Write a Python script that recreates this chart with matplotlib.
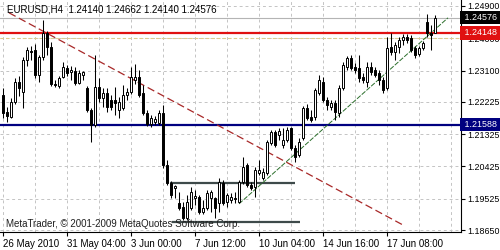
import matplotlib
matplotlib.use("Agg")
import matplotlib.pyplot as plt
from matplotlib.transforms import blended_transform_factory

plt.rcParams['font.family'] = ['Liberation Sans', 'DejaVu Sans']

# EURUSD H4 candles
opens = [1.2242, 1.2194, 1.2180, 1.2222, 1.2278, 1.2250, 1.2339, 1.2364, 1.2367, 1.2297,
         1.2348, 1.2415, 1.2376, 1.2272, 1.2267, 1.2292, 1.2317, 1.2306, 1.2309, 1.2275,
         1.2297, 1.2261, 1.2200, 1.2158, 1.2264, 1.2233, 1.2247, 1.2228, 1.2228, 1.2200,
         1.2205, 1.2242, 1.2250, 1.2284, 1.2292, 1.2247, 1.2191, 1.2161, 1.2166, 1.2164,
         1.2191, 1.2046, 1.1996, 1.1982, 1.1940, 1.1929, 1.1899, 1.1926, 1.1954, 1.1957,
         1.1915, 1.1926, 1.1954, 1.1954, 1.1940, 1.1996, 1.1943, 1.1949, 1.1954, 1.1943,
         1.1999, 1.2046, 1.1991, 1.1985, 1.2024, 1.2010, 1.2024, 1.2108, 1.2138, 1.2130,
         1.2102, 1.2116, 1.2150, 1.2094, 1.2074, 1.2122, 1.2205, 1.2180, 1.2180, 1.2247,
         1.2278, 1.2228, 1.2208, 1.2219, 1.2191, 1.2261, 1.2320, 1.2345, 1.2320, 1.2317,
         1.2292, 1.2278, 1.2320, 1.2311, 1.2303, 1.2284, 1.2261, 1.2376, 1.2362, 1.2376,
         1.2395, 1.2404, 1.2401, 1.2373, 1.2356, 1.2373, 1.2445, 1.2415, 1.24140]
highs = [1.2261, 1.2208, 1.2233, 1.2289, 1.2295, 1.2348, 1.2376, 1.2378, 1.2384, 1.2353,
         1.2451, 1.2420, 1.2390, 1.2284, 1.2295, 1.2334, 1.2325, 1.2323, 1.2320, 1.2311,
         1.2309, 1.2267, 1.2205, 1.2353, 1.2289, 1.2261, 1.2261, 1.2242, 1.2264, 1.2236,
         1.2270, 1.2261, 1.2320, 1.2328, 1.2311, 1.2270, 1.2200, 1.2186, 1.2183, 1.2200,
         1.2214, 1.2060, 1.2002, 1.1991, 1.1971, 1.1943, 1.1963, 1.1985, 1.1977, 1.1963,
         1.1949, 1.1977, 1.1977, 1.1957, 1.2010, 1.2005, 1.1968, 1.1968, 1.1971, 1.2005,
         1.2069, 1.2052, 1.1999, 1.2041, 1.2060, 1.2038, 1.2116, 1.2144, 1.2144, 1.2150,
         1.2150, 1.2152, 1.2152, 1.2102, 1.2122, 1.2211, 1.2217, 1.2200, 1.2261, 1.2297,
         1.2292, 1.2236, 1.2228, 1.2228, 1.2270, 1.2334, 1.2350, 1.2353, 1.2331, 1.2353,
         1.2303, 1.2334, 1.2334, 1.2320, 1.2311, 1.2292, 1.2404, 1.2415, 1.2390, 1.2404,
         1.2412, 1.2412, 1.2409, 1.2378, 1.2378, 1.2392, 1.2468, 1.2437, 1.24662]
lows = [1.2178, 1.2166, 1.2178, 1.2217, 1.2239, 1.2205, 1.2323, 1.2339, 1.2289, 1.2278,
        1.2339, 1.2353, 1.2267, 1.2264, 1.2261, 1.2289, 1.2295, 1.2284, 1.2270, 1.2272,
        1.2284, 1.2194, 1.2111, 1.2152, 1.2222, 1.2208, 1.2194, 1.2200, 1.2186, 1.2178,
        1.2200, 1.2228, 1.2244, 1.2272, 1.2236, 1.2186, 1.2155, 1.2152, 1.2158, 1.2158,
        1.2038, 1.1991, 1.1954, 1.1954, 1.1921, 1.1893, 1.1893, 1.1921, 1.1935, 1.1910,
        1.1910, 1.1921, 1.1915, 1.1899, 1.1915, 1.1935, 1.1929, 1.1940, 1.1940, 1.1940,
        1.1993, 1.1985, 1.1977, 1.1957, 1.2018, 1.2005, 1.2018, 1.2102, 1.2097, 1.2116,
        1.2094, 1.2111, 1.2088, 1.2055, 1.2069, 1.2116, 1.2172, 1.2166, 1.2172, 1.2242,
        1.2222, 1.2200, 1.2200, 1.2172, 1.2180, 1.2256, 1.2311, 1.2311, 1.2303, 1.2278,
        1.2275, 1.2264, 1.2297, 1.2292, 1.2270, 1.2247, 1.2256, 1.2353, 1.2339, 1.2359,
        1.2381, 1.2387, 1.2362, 1.2345, 1.2350, 1.2367, 1.2404, 1.2367, 1.24140]
closes = [1.2191, 1.2183, 1.2222, 1.2278, 1.2261, 1.2339, 1.2367, 1.2362, 1.2297, 1.2348,
          1.2415, 1.2376, 1.2272, 1.2270, 1.2289, 1.2320, 1.2303, 1.2311, 1.2275, 1.2303,
          1.2306, 1.2200, 1.2158, 1.2264, 1.2233, 1.2247, 1.2208, 1.2208, 1.2219, 1.2222,
          1.2242, 1.2250, 1.2292, 1.2292, 1.2242, 1.2191, 1.2161, 1.2178, 1.2175, 1.2191,
          1.2046, 1.1996, 1.1963, 1.1988, 1.1926, 1.1899, 1.1943, 1.1971, 1.1960, 1.1915,
          1.1926, 1.1968, 1.1971, 1.1926, 1.1999, 1.1940, 1.1963, 1.1957, 1.1952, 1.1999,
          1.2041, 1.1991, 1.1982, 1.2032, 1.2032, 1.2027, 1.2111, 1.2138, 1.2102, 1.2141,
          1.2116, 1.2144, 1.2094, 1.2069, 1.2111, 1.2205, 1.2178, 1.2172, 1.2256, 1.2284,
          1.2228, 1.2214, 1.2219, 1.2194, 1.2261, 1.2325, 1.2345, 1.2317, 1.2311, 1.2289,
          1.2284, 1.2320, 1.2306, 1.2297, 1.2284, 1.2256, 1.2373, 1.2362, 1.2381, 1.2395,
          1.2404, 1.2395, 1.2367, 1.2353, 1.2373, 1.2387, 1.2415, 1.2409, 1.24576]

price_ticks = [1.24900, 1.24000, 1.23100, 1.22225, 1.21325, 1.20425, 1.19525, 1.18650]
date_ticks = [0, 16, 32, 48, 64, 80, 96]
date_labels = ["26 May 2010", "31 May 04:00", "3 Jun 00:00", "7 Jun 12:00",
               "10 Jun 04:00", "14 Jun 16:00", "17 Jun 08:00"]

resistance = 1.24148
support = 1.21588
round_level = 1.24000
bid = 1.24576
box_top = 1.1996
box_bottom = 1.1887
box_start = [41.75, 42.25]
box_end = [73.0, 74.25]
down_trend = ([1.5, 100.0], [1.2471, 1.1879])
up_trend = ([59.0, 111.25], [1.1938, 1.2457])

fig = plt.figure(figsize=(5, 2.5), dpi=100)
ax = fig.add_axes([0, 0.072, 0.922, 0.928])
ax.set_xlim(-0.75, 114.5)
ax.set_ylim(1.18595, 1.25067)

# grid
for gx in range(0, 115, 8):
    ax.axvline(gx, color='#c4c4c4', lw=0.7, ls=(0, (3, 3)), zorder=0)
for gy in price_ticks:
    ax.axhline(gy, color='#c4c4c4', lw=0.7, ls=(0, (3, 3)), zorder=0)

# objects
ax.axhline(round_level, color='#dccb8e', lw=0.8, ls=(0, (3, 2)), zorder=1)
ax.axhline(bid, color='#b4b4b4', lw=0.8, zorder=1)
ax.axhline(resistance, color='#e01010', lw=1.6, zorder=2)
ax.axhline(support, color='#000080', lw=1.6, zorder=2)
ax.hlines([box_top, box_bottom], box_start, box_end, color='#3e4a4a', lw=1.6, zorder=2)
ax.plot(*down_trend, color='#a82828', lw=0.9, ls=(0, (6, 3)), zorder=2)
ax.plot(*up_trend, color='#2a6e2a', lw=0.7, ls=(0, (5, 1.5)), zorder=2)

# candles
x = list(range(len(opens)))
ax.vlines(x, lows, highs, color='black', lw=0.75, zorder=3)
bottoms = [min(o, c) for o, c in zip(opens, closes)]
heights = [max(abs(c - o), 0.00004) for o, c in zip(opens, closes)]
faces = ['white' if c >= o else 'black' for o, c in zip(opens, closes)]
ax.bar(x, heights, 0.5, bottoms, color=faces, edgecolor='black', lw=0.7, zorder=4)

# axes look
for s in ['left', 'top']:
    ax.spines[s].set_visible(False)
for s in ['right', 'bottom']:
    ax.spines[s].set_linewidth(0.8)
ax.yaxis.tick_right()
ax.set_yticks(price_ticks)
ax.set_yticklabels(['%.5f' % p for p in price_ticks])
ax.set_xticks(date_ticks)
ax.set_xticklabels(date_labels, ha='left')
ax.tick_params(axis='x', labelsize=7, length=3, width=0.8, pad=2, colors='black')
ax.tick_params(axis='y', labelsize=6.4, length=3, width=0.8, pad=1.5, colors='black')

# price boxes on the right
trans = blended_transform_factory(ax.transAxes, ax.transData)
for level, fc in [(bid, 'black'), (resistance, '#e01010'), (support, '#000080')]:
    ax.text(1.003, level, ' %.5f ' % level, transform=trans, color='white', fontsize=6.4,
            va='center', ha='left', clip_on=False, zorder=10,
            bbox=dict(boxstyle='square,pad=0.25', fc=fc, ec='none'))

fig.text(7 / 500, 1 - 10 / 250, "EURUSD,H4  1.24140 1.24662 1.24140 1.24576",
         fontsize=7, va='center', ha='left')
fig.text(6 / 500, 1 - 224 / 250, "MetaTrader, \u00a9 2001-2009 MetaQuotes Software Corp.",
         fontsize=7, va='center', ha='left', color='#202020')

fig.savefig('out.png', dpi=100, facecolor='white')
